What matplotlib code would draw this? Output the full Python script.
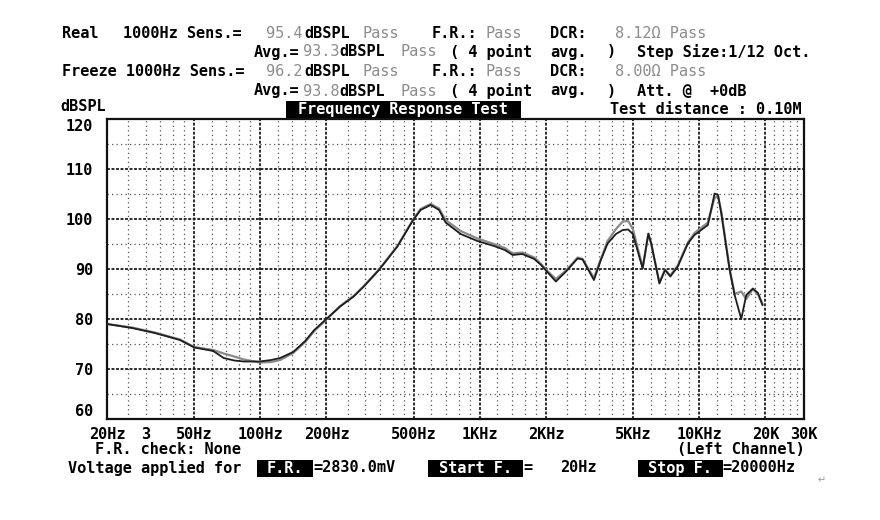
import numpy as np
import matplotlib
matplotlib.use("Agg")
import matplotlib.pyplot as plt
from matplotlib.patches import Rectangle

plt.rcParams["font.family"] = ["DejaVu Sans Mono"]
plt.rcParams["axes.unicode_minus"] = False

# frequencies (Hz)
freq = [20, 26, 33, 43, 50, 61, 68, 76, 84, 99, 112, 123, 141, 160, 176, 201,
        231, 266, 296, 347, 421, 492, 537, 597, 652, 698, 818, 975, 1160, 1300,
        1410, 1560, 1770, 1900, 2030, 2220, 2470, 2790, 2940, 3310, 3560, 3820,
        4170, 4480, 4740, 4980, 5520, 5860, 6040, 6580, 6980, 7380, 7980, 8870,
        9510, 10940, 11740, 12170, 12600, 13750, 14490, 15530, 16370, 17550,
        18500, 19400]

# dark curve
real_db = [79.0, 78.2, 77.2, 75.8, 74.3, 73.6, 72.2, 71.7, 71.5, 71.5, 71.8, 72.2,
           73.4, 75.6, 77.8, 80.1, 82.5, 84.5, 86.5, 89.8, 94.5, 99.5, 101.8, 102.8,
           101.8, 99.3, 97.0, 95.6, 94.6, 93.8, 92.8, 93.0, 92.0, 90.8, 89.4, 87.5,
           89.5, 92.1, 91.9, 87.8, 91.8, 95.1, 97.0, 97.8, 97.9, 97.0, 90.1, 97.1,
           95.1, 87.1, 89.8, 88.5, 90.5, 95.1, 96.8, 98.8, 105.1, 104.8, 101.1, 89.8,
           84.8, 80.0, 84.8, 86.1, 85.2, 82.8]

# grey curve
freeze_db = [79.0, 78.3, 77.3, 75.9, 74.4, 73.8, 73.1, 72.5, 71.9, 71.3, 71.4, 71.8,
             73.2, 75.4, 77.6, 80.0, 82.6, 84.6, 86.6, 89.9, 94.6, 99.6, 102.0, 103.0,
             102.1, 99.8, 97.6, 96.1, 95.0, 94.2, 93.1, 93.3, 92.3, 91.0, 89.6, 88.0,
             89.7, 92.3, 92.0, 88.2, 92.0, 95.6, 98.0, 99.5, 99.6, 98.0, 90.3, 97.0,
             95.0, 87.3, 89.9, 88.7, 90.7, 95.3, 97.2, 99.3, 104.2, 104.6, 101.4, 90.0,
             85.0, 85.5, 84.0, 86.0, 85.0, 83.0]

x_major = [20, 30, 50, 100, 200, 500, 1000, 2000, 5000, 10000, 20000, 30000]
x_labels = ["20Hz", "3", "50Hz", "100Hz", "200Hz", "500Hz", "1KHz", "2KHz",
            "5KHz", "10KHz", "20K", "30K"]
y_ticks = [60, 70, 80, 90, 100, 110, 120]

W, H = 880, 520
fig = plt.figure(figsize=(W / 100, H / 100), dpi=100)
fig.patch.set_facecolor("white")


def put(x, y, s, gray=False, color=None, **kw):
    c = color if color else ("#8c8c8c" if gray else "black")
    fig.text(x / W, 1 - y / H, s, color=c, fontsize=11,
             fontweight="normal" if gray else "bold",
             ha=kw.pop("ha", "left"), va=kw.pop("va", "center"), **kw)


def box(x0, y0, x1, y1):
    fig.add_artist(Rectangle((x0 / W, 1 - y1 / H), (x1 - x0) / W, (y1 - y0) / H,
                             transform=fig.transFigure, facecolor="black",
                             edgecolor="none"))


ax = fig.add_axes([107 / W, 1 - 419 / H, (804 - 107) / W, (419 - 119) / H])
ax.set_xscale("log")
ax.set_xlim(20, 30000)
ax.set_ylim(60, 120)

# grid: heavy dotted majors, light dotted minors
minor_x = [30, 22000, 24000, 26000, 28000]
for dec in [10, 100, 1000]:
    for m in [2.5, 3, 3.5, 4, 4.5, 6, 7, 8, 9, 12, 14, 16, 18]:
        v = m * dec
        if 20 < v < 20000 and v != 30:
            minor_x.append(v)
for v in minor_x:
    ax.axvline(v, color="#555555", lw=0.9, ls=(0, (1, 2.6)), zorder=1)
for v in [50, 100, 200, 500, 1000, 2000, 5000, 10000, 20000]:
    ax.axvline(v, color="#1a1a1a", lw=1.3, ls=(0, (1.6, 0.9)), zorder=1)
for v in range(65, 120, 10):
    ax.axhline(v, color="#555555", lw=0.9, ls=(0, (1, 2.6)), zorder=1)
for v in range(70, 120, 10):
    ax.axhline(v, color="#1a1a1a", lw=1.3, ls=(0, (1.6, 0.9)), zorder=1)

ax.plot(freq, freeze_db, color="#8a8a8a", lw=1.6, zorder=3)
ax.plot(freq, real_db, color="#1e1e1e", lw=1.3, zorder=4)

ax.set_xticks(x_major)
ax.set_xticklabels(x_labels, fontsize=11, fontweight="bold")
ax.xaxis.set_minor_locator(matplotlib.ticker.NullLocator())
ax.set_yticks(y_ticks)
ax.set_yticklabels([str(v) for v in y_ticks], fontsize=11, fontweight="bold")
ylabs = ax.get_yticklabels()
ylabs[0].set_va("bottom")
ylabs[-1].set_va("top")
ax.tick_params(length=0, pad=6)
ax.tick_params(axis="y", pad=10)
for sp in ax.spines.values():
    sp.set_linewidth(1.6)
    sp.set_color("#111111")

# header block
put(62, 33, "Real")
put(123, 33, "1000Hz Sens.=")
put(266, 33, "95.4", gray=True)
put(304, 33, "dBSPL")
put(362, 33, "Pass", gray=True)
put(432, 33, "F.R.:")
put(485, 33, "Pass", gray=True)
put(550, 33, "DCR:")
put(615, 33, "8.12Ω Pass", gray=True)

put(254, 52, "Avg.=")
put(303, 52, "93.3", gray=True)
put(339, 52, "dBSPL")
put(400, 52, "Pass", gray=True)
put(450, 52, "( 4 point")
put(550, 52, "avg.")
put(607, 52, ")")
put(637, 52, "Step Size:1/12 Oct.")

put(62, 72, "Freeze 1000Hz Sens.=")
put(266, 72, "96.2", gray=True)
put(304, 72, "dBSPL")
put(362, 72, "Pass", gray=True)
put(432, 72, "F.R.:")
put(485, 72, "Pass", gray=True)
put(550, 72, "DCR:")
put(615, 72, "8.00Ω Pass", gray=True)

put(254, 91, "Avg.=")
put(303, 91, "93.8", gray=True)
put(339, 91, "dBSPL")
put(400, 91, "Pass", gray=True)
put(450, 91, "( 4 point")
put(550, 91, "avg.")
put(607, 91, ")")
put(637, 91, "Att. @  +0dB")

put(60, 107, "dBSPL")
box(286, 101, 521, 118)
put(403, 109.5, "Frequency Response Test", color="white", ha="center")
put(610, 109, "Test distance : 0.10M")

# footer block
put(95, 449, "F.R. check: None")
put(677, 450, "(Left Channel)")
put(68, 468, "Voltage applied for")
box(257, 460, 313, 477)
put(285, 468.5, "F.R.", color="white", ha="center")
put(313, 468, "=2830.0mV")
box(428, 460, 523, 477)
put(475, 468.5, "Start F.", color="white", ha="center")
put(523, 468, "=")
put(560, 468, "20Hz")
box(638, 460, 723, 477)
put(680, 468.5, "Stop F.", color="white", ha="center")
put(722, 468, "=20000Hz")
fig.text(822 / W, 1 - 480 / H, "↵", fontsize=7, color="#999999",
         family="DejaVu Sans", ha="center", va="center")

fig.savefig("out.png", dpi=100)
